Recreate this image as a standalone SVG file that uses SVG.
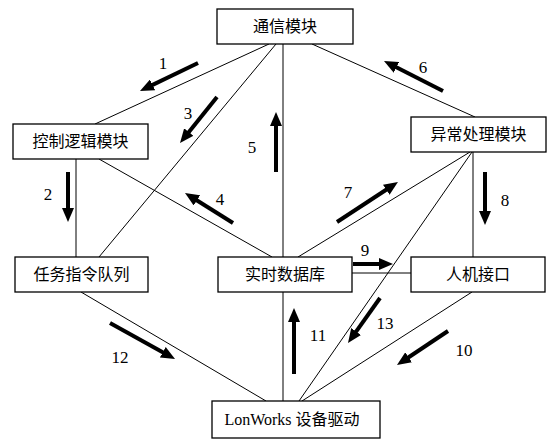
<svg xmlns="http://www.w3.org/2000/svg" width="547" height="439" viewBox="0 0 547 439">
<style>
.box{fill:#fff;stroke:#000;stroke-width:1.3}
.lbl{font-family:"Noto Sans CJK SC","Noto Sans",sans-serif;font-size:16px;text-anchor:middle;fill:#000}
.lat{font-family:"Liberation Serif",serif}
.ln{stroke:#000;stroke-width:1;fill:none}
.ar{stroke:#000;stroke-width:4;fill:none;marker-end:url(#ah)}
.num{font-family:"Liberation Serif",serif;font-size:17px;text-anchor:middle;fill:#000}
</style>
<defs>
<marker id="ah" viewBox="0 0 14 12" markerWidth="14" markerHeight="12" refX="4" refY="6" orient="auto" markerUnits="userSpaceOnUse">
<path d="M0,0 L14,6 L0,12 z" fill="#000"/>
</marker>
</defs>
<g id="connectors">
<line class="ln" x1="269" y1="44" x2="95" y2="124"/>
<line class="ln" x1="276" y1="44" x2="99" y2="257"/>
<line class="ln" x1="283" y1="44" x2="283" y2="257"/>
<line class="ln" x1="312" y1="44" x2="475" y2="117"/>
<line class="ln" x1="76" y1="159" x2="76" y2="257"/>
<line class="ln" x1="99" y1="159" x2="272" y2="257"/>
<line class="ln" x1="470" y1="152" x2="298" y2="257"/>
<line class="ln" x1="472" y1="152" x2="299" y2="401"/>
<line class="ln" x1="473" y1="152" x2="473" y2="257"/>
<line class="ln" x1="352" y1="273" x2="413" y2="273"/>
<line class="ln" x1="472" y1="292" x2="302" y2="401"/>
<line class="ln" x1="81" y1="292" x2="266" y2="401"/>
<line class="ln" x1="283" y1="292" x2="283" y2="401"/>
<line class="ar" x1="198" y1="63" x2="149" y2="86.6"/>
<line class="ar" x1="68" y1="172" x2="68" y2="212"/>
<line class="ar" x1="217" y1="97" x2="186.3" y2="135.2"/>
<line class="ar" x1="233" y1="223" x2="193.5" y2="198.3"/>
<line class="ar" x1="276" y1="172" x2="276" y2="122"/>
<line class="ar" x1="443" y1="91" x2="392.9" y2="65.5"/>
<line class="ar" x1="337" y1="222" x2="389.6" y2="187.5"/>
<line class="ar" x1="485" y1="172" x2="485" y2="215"/>
<line class="ar" x1="353" y1="264" x2="383" y2="264"/>
<line class="ar" x1="448" y1="331" x2="405.3" y2="359.5"/>
<line class="ar" x1="294" y1="374" x2="294" y2="318"/>
<line class="ar" x1="110" y1="323" x2="166.3" y2="354.2"/>
<line class="ar" x1="380" y1="298" x2="353.8" y2="334.8"/>
<text class="num" x="163" y="69">1</text>
<text class="num" x="48" y="200">2</text>
<text class="num" x="188" y="119">3</text>
<text class="num" x="220" y="205">4</text>
<text class="num" x="252" y="153">5</text>
<text class="num" x="423" y="73">6</text>
<text class="num" x="348" y="198">7</text>
<text class="num" x="505" y="206">8</text>
<text class="num" x="365" y="256">9</text>
<text class="num" x="464" y="356">10</text>
<text class="num" x="318" y="341">11</text>
<text class="num" x="120" y="363">12</text>
<text class="num" x="385" y="329">13</text>
</g>
<g id="comm"><rect class="box" x="217" y="9" width="136" height="35"/><text class="lbl" x="285" y="32">通信模块</text></g>
<g id="ctrl"><rect class="box" x="13" y="124" width="135" height="35"/><text class="lbl" x="80.5" y="147">控制逻辑模块</text></g>
<g id="exc"><rect class="box" x="411" y="117" width="135" height="35"/><text class="lbl" x="478.5" y="140">异常处理模块</text></g>
<g id="task"><rect class="box" x="15" y="257" width="133" height="35"/><text class="lbl" x="81.5" y="280">任务指令队列</text></g>
<g id="rtdb"><rect class="box" x="218" y="257" width="134" height="35"/><text class="lbl" x="285" y="280">实时数据库</text></g>
<g id="hmi"><rect class="box" x="411" y="257" width="134" height="35"/><text class="lbl" x="478" y="280">人机接口</text></g>
<g id="lon"><rect class="box" x="212" y="401" width="168" height="37"/><text class="lbl" x="292" y="425"><tspan class="lat">LonWorks </tspan>设备驱动</text></g>
</svg>
